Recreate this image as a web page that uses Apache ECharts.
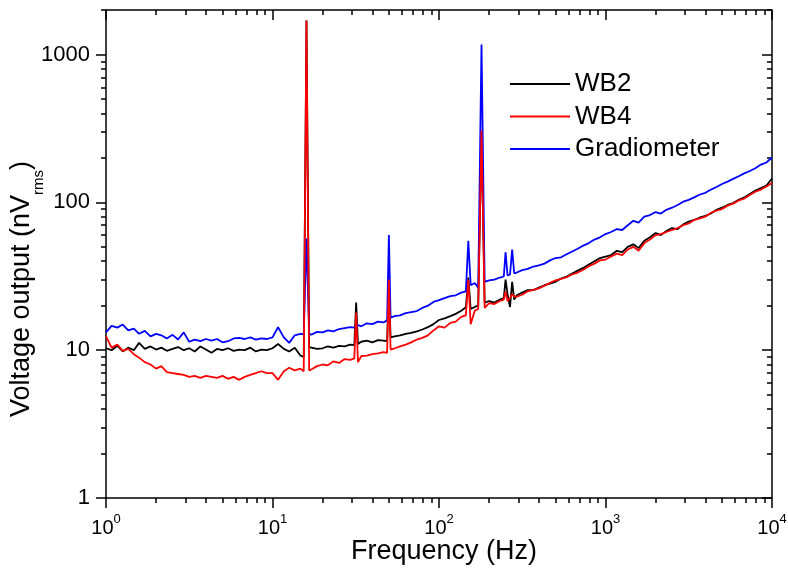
<!DOCTYPE html>
<html><head><meta charset="utf-8">
<script src="https://cdn.jsdelivr.net/npm/echarts@6/dist/echarts.min.js"></script>
<style>html,body{margin:0;padding:0;background:#fff}#c{width:788px;height:572px}</style>
</head><body><div id="c"></div>
<script>
const freq = [
  1, 1.08, 1.17, 1.26, 1.36, 1.47, 1.58, 1.71, 1.85, 2.0, 2.15, 2.32, 2.51, 2.71, 2.93, 3.16, 3.41, 3.69, 3.98, 4.3, 4.64, 5.01, 5.41, 5.84, 6.31, 6.81, 7.36, 7.94, 8.58, 9.26,
  10, 10.8, 11.7, 12.6, 13.6, 14.7, 15.4, 16.0, 16.6, 17.1, 18.5, 20.0, 21.5, 23.2, 25.1, 27.1, 29.3, 31.0, 31.8, 32.6, 34.1, 36.9, 39.8, 43.0, 46.4, 48.8, 50.0, 51.2, 54.1, 58.4, 63.1, 68.1, 73.6, 79.4, 85.8, 92.6,
  100, 108, 117, 126, 136, 145, 150, 155, 164, 172, 180, 188, 200, 215, 232, 245, 251, 258, 267, 275, 283, 293, 316, 341, 369, 398, 430, 464, 501, 541, 584, 631, 681, 736, 794, 858, 926,
  1000, 1080, 1170, 1260, 1360, 1470, 1580, 1710, 1850, 2000, 2150, 2320, 2510, 2710, 2930, 3160, 3410, 3690, 3980, 4300, 4640, 5010, 5410, 5840, 6310, 6810, 7360, 7940, 8580, 9260, 10000
];
const wb2 = [
  10.3, 10.0, 10.7, 9.8, 10.4, 10.0, 11.2, 10.2, 10.6, 10.1, 10.4, 9.9, 10.2, 10.5, 10.0, 10.3, 9.8, 10.6, 10.1, 9.6, 10.2, 10.0, 10.3, 9.9, 10.1, 10.0, 10.4, 9.8, 10.1, 10.0,
  10.3, 11.0, 10.2, 9.8, 10.4, 9.2, 9.0, 1700, 10.5, 10.4, 10.2, 10.3, 10.6, 10.4, 10.7, 10.6, 10.9, 10.8, 21, 11.0, 11.4, 11.6, 11.3, 11.7, 11.6, 11.5, 28, 12.2, 12.4, 12.6, 12.9, 13.1, 13.4, 13.8, 14.3, 15.0,
  16.0, 16.4, 17.0, 17.6, 18.5, 19.5, 31, 19.0, 19.6, 20.0, 290, 21.0, 21.5, 21.0, 22.0, 22.5, 30, 24, 19.6, 29, 22, 23.5, 24.5, 25.5, 25.5, 26.5, 27.5, 28.2, 29, 30.5, 31.5, 33, 34.5, 36, 38, 40, 42,
  43, 44, 47, 46, 50, 52, 49, 55, 58, 62, 60, 64, 67, 66, 71, 74, 76, 79, 81, 84, 89, 92, 96, 99, 104, 108, 114, 120, 125, 130, 145
];
const wb4 = [
  12.4, 10.4, 10.9, 9.9, 10.2, 9.4, 8.9, 8.3, 8.0, 7.5, 7.8, 7.1, 7.0, 6.9, 6.8, 6.6, 6.7, 6.5, 6.7, 6.6, 6.5, 6.7, 6.4, 6.6, 6.3, 6.6, 6.8, 7.0, 7.2, 7.0,
  7.0, 6.3, 7.2, 7.6, 7.3, 7.5, 7.2, 1700, 7.3, 7.4, 7.8, 8.0, 7.9, 8.4, 8.2, 8.7, 8.6, 8.8, 18, 8.3, 9.1, 9.2, 9.4, 9.5, 9.7, 9.6, 30, 10.1, 10.3, 10.6, 10.9, 11.3, 11.8, 12.1, 12.6, 13.6,
  14.5, 14.2, 15.3, 15.6, 16.8, 17.2, 30, 15.0, 18.5, 19.0, 306, 19.3, 20.8, 20.5, 21.5, 22.0, 25, 21.5, 22.5, 24, 23, 23, 23.7, 25, 25.6, 26.2, 27.3, 28.5, 29.7, 30.3, 31.2, 32.5, 33.5, 35, 37, 38.5, 40.5,
  41, 43, 45, 44, 48, 50, 47, 53, 56, 60, 61, 63, 65, 67, 70, 72, 76, 78, 80, 85, 88, 90, 95, 98, 103, 106, 112, 118, 122, 128, 135
];
const grad = [
  13.2, 14.6, 14.2, 14.9, 13.6, 14.0, 12.9, 13.5, 12.4, 12.9, 12.6, 12.0, 12.7, 11.8, 13.2, 11.4, 11.8, 11.5, 11.9, 11.6, 11.9, 11.3, 11.5, 12.0, 12.1, 11.9, 12.2, 11.8, 12.0, 11.9,
  12.2, 14.3, 12.2, 11.2, 12.6, 12.9, 12.8, 57, 13.0, 12.7, 13.3, 13.2, 13.6, 13.4, 13.9, 14.1, 14.3, 14.2, 14.5, 14.8, 14.5, 15.2, 15.0, 15.6, 15.4, 15.9, 60, 16.6, 17.0, 17.2, 17.8, 18.1, 18.4, 19.3, 20.0, 21.2,
  21.8, 22.5, 23.2, 23.5, 24.5, 25.0, 55, 27.5, 28.5, 26.5, 1170, 29.0, 29.7, 30.0, 31.0, 31.5, 46, 32, 32.5, 48, 33, 33.5, 34.8, 35.5, 36.8, 37.5, 38.5, 40.5, 42, 42.5, 44.5, 46.5, 48.5, 51, 53, 56, 58,
  61, 63, 66, 65, 70, 75, 73, 80, 82, 86, 84, 89, 92, 96, 101, 104, 108, 113, 116, 122, 127, 133, 138, 144, 150, 157, 163, 170, 180, 186, 201
];
const seriesNames = ['WB2', 'WB4', 'Gradiometer'];
const xMajorTicks = [1, 10, 100, 1000, 10000];
const xTickExponents = ['0', '1', '2', '3', '4'];
const xMinorTicks = [2,3,4,5,6,7,8,9, 20,30,40,50,60,70,80,90, 200,300,400,500,600,700,800,900, 2000,3000,4000,5000,6000,7000,8000,9000];
const yMajorTicks = [1, 10, 100, 1000];
const yTickLabels = ['1', '10', '100', '1000'];
const yMinorTicks = [2,3,4,5,6,7,8,9, 20,30,40,50,60,70,80,90, 200,300,400,500,600,700,800,900, 2000];
const xRange = [1, 10000];
const yRange = [1, 2000];

const FONT = '"Liberation Sans", Arial, Helvetica, sans-serif';
const lg = v => Math.log10(v);
const near = (a, b) => Math.abs(a - b) < 1e-6;
const AX = { color: '#000', width: 1.5 };

function overlay(dim, pos, ticks, len, inside, showLine, label, extra) {
  const r = dim === 'x' ? xRange : yRange;
  return Object.assign({
    type: 'value', position: pos, min: lg(r[0]), max: lg(r[1]),
    axisLine: { show: showLine, onZero: false, lineStyle: AX },
    axisTick: { show: true, inside: inside, length: len, customValues: ticks.map(lg), lineStyle: AX },
    axisLabel: label || { show: false },
    splitLine: { show: false }, axisPointer: { show: false }
  }, extra || {});
}

const xLabel = {
  show: true, customValues: xMajorTicks.map(lg), margin: 15,
  formatter: v => { const i = xMajorTicks.findIndex(t => near(lg(t), v)); return '{b|10}{s|' + xTickExponents[i] + '}'; },
  rich: {
    b: { fontSize: 20, fontFamily: FONT, color: '#000', verticalAlign: 'bottom' },
    s: { fontSize: 13, fontFamily: FONT, color: '#000', verticalAlign: 'bottom', padding: [0, 0, 12, 0] }
  }
};
const yLabel = {
  show: true, customValues: yMajorTicks.map(lg), margin: 16,
  fontSize: 22, fontFamily: FONT, color: '#000',
  formatter: v => { const i = yMajorTicks.findIndex(t => near(lg(t), v)); return yTickLabels[i]; }
};

const dataOf = arr => freq.map((f, i) => [f, arr[i]]);
const colors = { 'WB2': '#000000', 'WB4': '#ff0000', 'Gradiometer': '#0000ff' };
const mk = (name, arr) => ({
  name, type: 'line', data: dataOf(arr), xAxisIndex: 0, yAxisIndex: 0,
  symbol: 'none', lineStyle: { color: colors[name], width: 1.8 }, itemStyle: { color: colors[name] }, animation: false
});

const chart = echarts.init(document.getElementById('c'), null, { renderer: 'canvas' });
chart.setOption({
  backgroundColor: '#fff',
  animation: false,
  grid: { left: 106, right: 16, top: 10, bottom: 74, containLabel: false, outerBoundsMode: 'none' },
  legend: {
    orient: 'vertical', left: 505, top: 66, itemWidth: 60, itemHeight: 2, itemGap: 6.5,
    icon: 'rect',
    data: seriesNames,
    textStyle: { fontSize: 26, fontFamily: FONT, color: '#000', lineHeight: 26 }
  },
  xAxis: [
    { type: 'log', logBase: 10, min: xRange[0], max: xRange[1], show: false },
    overlay('x', 'bottom', xMajorTicks, 10, false, true, xLabel, {
      name: 'Frequency (Hz)', nameLocation: 'middle', nameGap: 40, nameMoveOverlap: false,
      nameTextStyle: { fontSize: 27, fontFamily: FONT, color: '#000', padding: [0, 0, 0, 10] }
    }),
    overlay('x', 'bottom', xMinorTicks, 5, false, false),
    overlay('x', 'top', xMajorTicks, 10, true, true),
    overlay('x', 'top', xMinorTicks, 5, true, false)
  ],
  yAxis: [
    { type: 'log', logBase: 10, min: yRange[0], max: yRange[1], show: false },
    overlay('y', 'left', yMajorTicks, 10, false, true, yLabel, {
      name: '{m|Voltage output (nV}{s|rms}{m|)}', nameLocation: 'middle', nameGap: 60, nameMoveOverlap: false,
      nameTextStyle: {
        padding: [0, 70, 0, 0],
        rich: {
          m: { fontSize: 27, fontFamily: FONT, color: '#000', verticalAlign: 'bottom', padding: [0, 0, 11, 0] },
          s: { fontSize: 15, fontFamily: FONT, color: '#000', verticalAlign: 'bottom' }
        }
      }
    }),
    overlay('y', 'left', yMinorTicks, 5, false, false),
    overlay('y', 'right', yMajorTicks, 10, true, true),
    overlay('y', 'right', yMinorTicks, 5, true, false)
  ],
  series: [
    mk('WB2', wb2),
    mk('Gradiometer', grad),
    mk('WB4', wb4)
  ]
});
</script></body></html>
